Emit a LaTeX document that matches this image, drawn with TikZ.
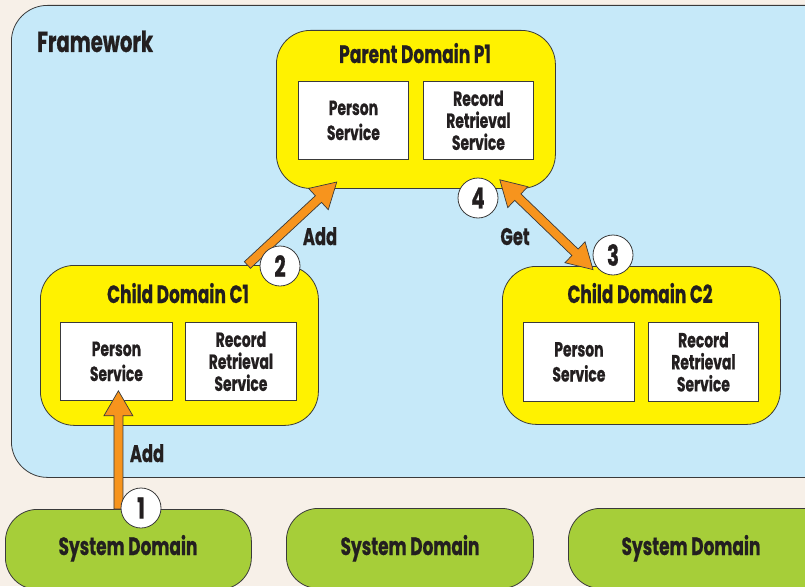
\documentclass[tikz,border=0pt]{standalone}
\usepackage{fontspec}
\setmainfont{Poppins}[FakeStretch=0.68, BoldFeatures={FakeBold=0.6}]
\usetikzlibrary{calc}
\definecolor{paper}{HTML}{F7F0E8}
\definecolor{skyblue}{HTML}{C6E9F9}
\definecolor{domyellow}{HTML}{FFF200}
\definecolor{sysgreen}{HTML}{A6CE39}
\definecolor{arrowor}{HTML}{F7941D}
\definecolor{ink}{HTML}{231F20}
\definecolor{edge}{HTML}{3A3A3A}
\tikzset{
  box/.style={draw=edge, line width=0.8pt, anchor=north west, inner sep=0pt},
  framebox/.style={box, fill=skyblue, rounded corners=36pt},
  domainbox/.style={box, fill=domyellow, rounded corners=34pt},
  sysbox/.style={box, fill=sysgreen, rounded corners=32pt},
  service/.style={box, fill=white, align=center, text=ink,
    font=\bfseries\fontsize{20.5}{22}\selectfont},
  heading/.style={anchor=base, text=ink, inner sep=0pt,
    font=\bfseries\fontsize{25}{27}\selectfont},
  arrowlabel/.style={anchor=base, text=ink, inner sep=0pt,
    font=\bfseries\fontsize{24}{26}\selectfont},
  badge/.style={circle, draw=edge, line width=0.8pt, fill=white,
    minimum size=40pt, inner sep=0pt, text=ink,
    font=\bfseries\fontsize{29}{30}\selectfont},
  % filled block arrow from start to target
  fatarrow/.style={draw=edge, fill=arrowor, line width=0.7pt, line join=miter,
    to path={let \p1=(\tikztostart), \p2=(\tikztotarget),
      \n1={atan2(\y2-\y1,\x2-\x1)}, \n2={veclen(\x2-\x1,\y2-\y1)},
      \n3={\n2-25} in
      {[shift={(\p1)}, rotate=\n1]
        (0,-4.5) -- (\n3,-4.5) -- (\n3,-14.5) -- (\n2,0) -- (\n3,14.5)
        -- (\n3,4.5) -- (0,4.5) -- cycle}}},
  % filled block arrow with heads at both ends
  fatarrows/.style={draw=edge, fill=arrowor, line width=0.7pt, line join=miter,
    to path={let \p1=(\tikztostart), \p2=(\tikztotarget),
      \n1={atan2(\y2-\y1,\x2-\x1)}, \n2={veclen(\x2-\x1,\y2-\y1)},
      \n3={\n2-25} in
      {[shift={(\p1)}, rotate=\n1]
        (0,0) -- (25,-14.5) -- (25,-4.5) -- (\n3,-4.5) -- (\n3,-14.5)
        -- (\n2,0) -- (\n3,14.5) -- (\n3,4.5) -- (25,4.5) -- (25,14.5) -- cycle}}},
}
\begin{document}
\begin{tikzpicture}[x=1pt, y=-1pt]
\useasboundingbox (0,0) rectangle (805,586);
\clip (0,0) rectangle (805,586);
\fill[paper] (0,0) rectangle (805,586);

% framework area
\node[framebox, minimum width=840pt, minimum height=472pt] (fw) at (11,5) {};
\node[heading, anchor=base west, font=\bfseries\fontsize{29}{31}\selectfont] (fwlabel) at (37,52) {Framework};

% system domains
\node[sysbox, minimum width=246pt, minimum height=80pt] (sd1) at (5,509) {};
\node[sysbox, minimum width=247pt, minimum height=80pt] (sd2) at (286,508) {};
\node[sysbox, minimum width=270pt, minimum height=80pt] (sd3) at (568,508) {};
\node[heading] (sd1t) at (128,555) {System Domain};
\node[heading] (sd2t) at (410,555) {System Domain};
\node[heading] (sd3t) at (691,555) {System Domain};

% parent domain
\node[domainbox, minimum width=279pt, minimum height=158pt] (p1) at (276,30) {};
\node[heading] (p1t) at (415,63) {Parent Domain P1};
\node[service, minimum width=110pt, minimum height=78pt] (p1ps) at (298,81) {Person\\[3pt]Service};
\node[service, minimum width=110pt, minimum height=78pt] (p1rs) at (423,81) {Record\\Retrieval\\Service};

% child domain C1
\node[domainbox, minimum width=278pt, minimum height=160pt] (c1) at (40,265) {};
\node[heading] (c1t) at (178,303) {Child Domain C1};
\node[service, minimum width=112pt, minimum height=78pt] (c1ps) at (60,322) {Person\\[3pt]Service};
\node[service, minimum width=111pt, minimum height=78pt] (c1rs) at (185,322) {Record\\Retrieval\\Service};

% child domain C2
\node[domainbox, minimum width=278pt, minimum height=158pt] (c2) at (502,266) {};
\node[heading] (c2t) at (640,303) {Child Domain C2};
\node[service, minimum width=111pt, minimum height=79pt] (c2ps) at (523,322) {Person\\[3pt]Service};
\node[service, minimum width=110pt, minimum height=79pt] (c2rs) at (648,322) {Record\\Retrieval\\Service};

% connectors
\path[fatarrow] ($(sd1.north -| c1ps.south)+(2,0)$) to ($(c1ps.south)+(2,-10)$);
\path[fatarrow] ($(c1.north)+(68,0)$) to ($(p1.south west)+(61,-7)$);
\path[fatarrows] ($(p1.south east)+(-56,-9)$) to ($(c2.north)+(-48,4)$);

% connector labels
\node[arrowlabel] (add1) at (147,462) {Add};
\node[arrowlabel] (add2) at (320,245) {Add};
\node[arrowlabel] (get) at (515,245) {Get};

% step badges
\node[badge] (b1) at (141,508) {1};
\node[badge] (b2) at (280,266) {2};
\node[badge] (b3) at (613,255) {3};
\node[badge] (b4) at (478,198) {4};
\end{tikzpicture}
\end{document}
